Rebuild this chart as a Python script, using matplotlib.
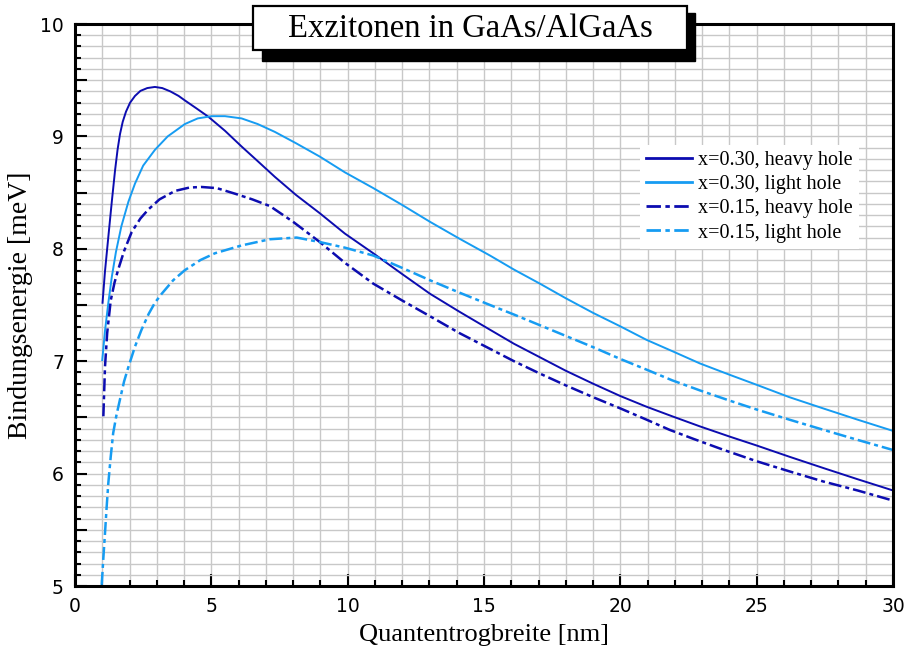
import matplotlib.pyplot as plt
import matplotlib.patches as patches
from matplotlib.ticker import MultipleLocator, FuncFormatter

# binding energy [meV] vs. quantum well width [nm]
x_hh30 = [1.01, 1.1, 1.22, 1.35, 1.47, 1.56, 1.65, 1.75, 1.87, 2.02, 2.2, 2.4, 2.65,
          2.93, 3.2, 3.5, 3.8, 4.03, 4.45, 4.89, 5.5, 6.11, 6.7, 7.33, 8.1, 8.98,
          9.9, 10.94, 12.0, 13.02, 14.1, 15.22, 16.1, 17.05, 18.0, 19.0, 20.0,
          20.96, 21.9, 22.92, 24.0, 25.0, 26.2, 27.44, 28.7, 30.0]
y_hh30 = [7.52, 7.80, 8.10, 8.42, 8.70, 8.88, 9.02, 9.13, 9.22, 9.30, 9.36, 9.405, 9.43,
          9.44, 9.43, 9.40, 9.36, 9.32, 9.25, 9.175, 9.05, 8.91, 8.78, 8.64, 8.48, 8.316,
          8.135, 7.96, 7.775, 7.60, 7.44, 7.28, 7.155, 7.035, 6.915, 6.80, 6.69,
          6.595, 6.51, 6.42, 6.33, 6.25, 6.15, 6.05, 5.95, 5.85]

x_lh30 = [1.0, 1.1, 1.22, 1.35, 1.5, 1.7, 1.96, 2.2, 2.5, 2.93, 3.4, 4.03, 4.5, 5.01,
          5.5, 6.11, 6.7, 7.33, 8.1, 8.98, 9.9, 10.94, 12.0, 13.02, 14.1, 15.22,
          16.1, 17.05, 18.0, 19.0, 20.0, 20.96, 21.9, 22.92, 24.0, 25.0, 26.2,
          27.44, 28.7, 30.0]
y_lh30 = [7.01, 7.27, 7.515, 7.75, 7.97, 8.20, 8.42, 8.58, 8.74, 8.88, 9.00, 9.11, 9.16,
          9.18, 9.18, 9.16, 9.11, 9.04, 8.94, 8.82, 8.68, 8.54, 8.39, 8.24, 8.09, 7.94,
          7.815, 7.69, 7.56, 7.43, 7.31, 7.19, 7.09, 6.98, 6.88, 6.79, 6.68,
          6.58, 6.48, 6.38]

x_hh15 = [1.04, 1.10, 1.18, 1.31, 1.45, 1.59, 1.8, 2.08, 2.4, 2.69, 3.1, 3.67, 4.2,
          4.64, 5.2, 5.87, 6.5, 7.15, 8.0, 8.98, 9.9, 10.94, 12.0, 13.02, 14.1,
          15.22, 16.1, 17.05, 18.0, 19.0, 20.0, 20.96, 21.8, 22.67, 23.8, 25.0,
          26.2, 27.44, 28.7, 30.0]
y_hh15 = [6.51, 6.95, 7.25, 7.54, 7.70, 7.82, 7.98, 8.15, 8.27, 8.35, 8.44, 8.515, 8.545,
          8.55, 8.54, 8.49, 8.44, 8.38, 8.24, 8.06, 7.875, 7.69, 7.54, 7.40, 7.25,
          7.11, 7.00, 6.89, 6.785, 6.68, 6.58, 6.48, 6.39, 6.31, 6.21, 6.11,
          6.02, 5.93, 5.85, 5.76]

x_lh15 = [0.98, 1.04, 1.1, 1.16, 1.22, 1.31, 1.40, 1.52, 1.65, 1.8, 1.96, 2.2, 2.44,
          2.7, 2.93, 3.18, 3.6, 4.03, 4.6, 5.13, 6.11, 7.15, 8.13, 8.98, 9.9, 10.94,
          12.0, 13.02, 14.1, 15.22, 16.1, 17.05, 18.0, 19.0, 20.0, 20.96, 21.9,
          22.92, 24.0, 25.0, 26.2, 27.44, 28.7, 30.0]
y_lh15 = [5.01, 5.25, 5.47, 5.70, 5.91, 6.15, 6.36, 6.52, 6.66, 6.82, 6.95, 7.13, 7.28,
          7.42, 7.52, 7.60, 7.72, 7.81, 7.90, 7.96, 8.03, 8.085, 8.10, 8.06, 8.01, 7.94,
          7.83, 7.72, 7.61, 7.50, 7.415, 7.32, 7.225, 7.125, 7.02, 6.925, 6.83,
          6.74, 6.65, 6.57, 6.48, 6.39, 6.30, 6.21]

labels = ["x=0.30, heavy hole", "x=0.30, light hole",
          "x=0.15, heavy hole", "x=0.15, light hole"]

dark = "#0c0cb0"
light = "#169cf2"
dashdot = (0, (5.2, 1.6, 1.6, 1.6))

W, H = 909, 650
fig = plt.figure(figsize=(W / 100, H / 100), dpi=100)
ax = fig.add_axes([75 / W, 1 - 586 / H, (893 - 75) / W, (586 - 24) / H])

ax.plot(x_hh30, y_hh30, color=dark, lw=1.4, label=labels[0])
ax.plot(x_lh30, y_lh30, color=light, lw=1.4, label=labels[1])
ax.plot(x_hh15, y_hh15, color=dark, lw=1.8, linestyle=dashdot, label=labels[2])
ax.plot(x_lh15, y_lh15, color=light, lw=1.8, linestyle=dashdot, label=labels[3])

ax.set_xlim(0, 30)
ax.set_ylim(5, 10)
ax.xaxis.set_major_locator(MultipleLocator(5))
ax.xaxis.set_minor_locator(MultipleLocator(1))
ax.yaxis.set_major_locator(MultipleLocator(0.5))
ax.yaxis.set_minor_locator(MultipleLocator(0.1))
# only integer labels on y, the half-steps just get a long tick
ax.yaxis.set_major_formatter(FuncFormatter(
    lambda v, p: f"{v:.0f}" if abs(v - round(v)) < 1e-6 else ""))

ax.grid(which="both", color="#c8c8c8", lw=1.0)
ax.set_axisbelow(True)
ax.tick_params(which="both", direction="in", top=False, right=False,
               width=1.5, labelsize=13.5, pad=8)
ax.tick_params(which="major", length=8.5)
ax.tick_params(which="minor", length=4.5)
for s in ax.spines.values():
    s.set_linewidth(2.2)

serif = "Liberation Serif"
ax.set_xlabel("Quantentrogbreite [nm]", family=serif, fontsize=19, labelpad=6)
ax.set_ylabel("Bindungsenergie [meV]", family=serif, fontsize=20, labelpad=5)

leg = ax.legend(loc="upper left", bbox_to_anchor=(640 / W, 1 - 145 / H),
                bbox_transform=fig.transFigure, prop={"family": serif, "size": 14.5},
                frameon=True, fancybox=False, framealpha=1, edgecolor="none",
                handlelength=2.3, handletextpad=0.3, labelspacing=0.25,
                borderpad=0.3, borderaxespad=0)
for line in leg.get_lines():
    line.set_linewidth(2.0)

# title box with drop shadow
shadow = patches.Rectangle((262 / W, 1 - 61 / H), (695 - 262) / W, (61 - 13) / H,
                           transform=fig.transFigure, facecolor="black",
                           edgecolor="black", zorder=10)
box = patches.Rectangle((253 / W, 1 - 50 / H), (687 - 253) / W, (50 - 6) / H,
                        transform=fig.transFigure, facecolor="white",
                        edgecolor="black", lw=1.6, zorder=11)
fig.patches.extend([shadow, box])
fig.text(470 / W, 1 - 29 / H, "Exzitonen in GaAs/AlGaAs", family=serif,
         fontsize=23.5, ha="center", va="center", zorder=12)

plt.savefig("out.png", dpi=100)
plt.close(fig)
